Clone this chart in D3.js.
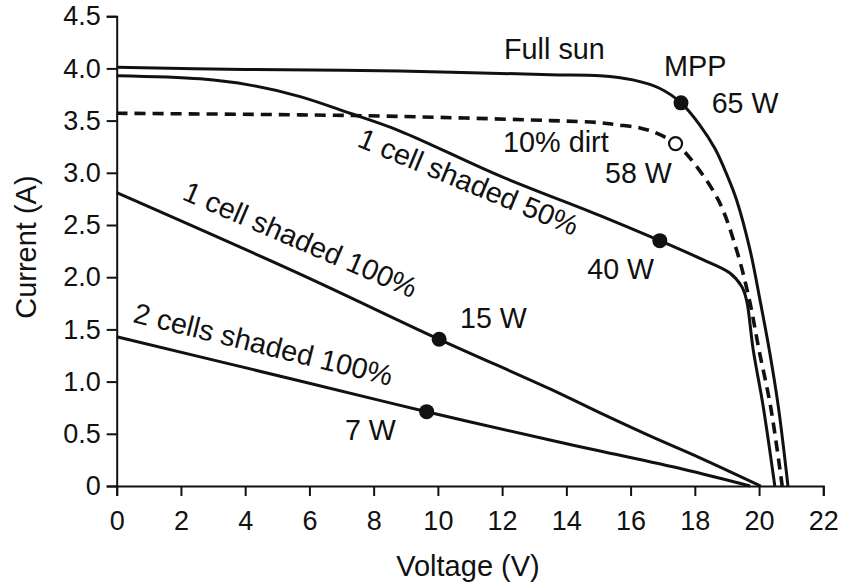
<!DOCTYPE html>
<html>
<head>
<meta charset="utf-8">
<script src="https://cdn.jsdelivr.net/npm/d3@7"></script>
<style>
  html, body { margin: 0; padding: 0; background: #fff; }
  svg { display: block; }
  text { font-family: "Liberation Sans", Arial, Helvetica, sans-serif; fill: #111; }
</style>
</head>
<body>
<svg id="chart" width="843" height="586"></svg>
<script>
// I–V curves of a PV module under different shading conditions
const xTicks = [0, 2, 4, 6, 8, 10, 12, 14, 16, 18, 20, 22];
const yTicks = [0, 0.5, 1.0, 1.5, 2.0, 2.5, 3.0, 3.5, 4.0, 4.5];

const fullSunV = [0, 4, 8.8, 13.5, 15.05, 16.07, 16.9, 17.57, 18.15, 18.63, 19.0, 19.3, 19.72, 20.03, 20.32, 20.6, 20.9];
const fullSunI = [4.01, 3.99, 3.975, 3.94, 3.93, 3.89, 3.81, 3.67, 3.46, 3.23, 2.98, 2.74, 2.26, 1.78, 1.30, 0.76, 0];

const dirtV = [0, 5.7, 8.8, 13.5, 15.05, 15.57, 16.29, 16.81, 17.4, 17.85, 18.73, 19.3, 19.7, 20.0, 20.36, 20.72];
const dirtI = [3.57, 3.555, 3.54, 3.50, 3.48, 3.46, 3.43, 3.38, 3.28, 3.14, 2.74, 2.26, 1.78, 1.30, 0.76, 0];

const half1V = [0, 2.6, 4.15, 5.71, 7.26, 8.82, 11.93, 15.05, 16.91, 18.16, 19.09, 19.46, 19.61, 19.82, 20.13, 20.49];
const half1I = [3.93, 3.90, 3.84, 3.73, 3.57, 3.40, 2.97, 2.59, 2.35, 2.18, 2.04, 1.91, 1.78, 1.30, 0.76, 0];

const full1V = [0, 5.71, 10.04, 13.49, 15.05, 16.6, 18.16, 20.05];
const full1I = [2.81, 2.03, 1.405, 0.93, 0.70, 0.48, 0.27, 0];

const two100V = [0, 5.71, 9.65, 13.49, 15.05, 17.64, 19.72];
const two100I = [1.43, 1.006, 0.712, 0.44, 0.335, 0.16, 0];

// maximum power points
const mppV = [17.57, 17.40, 16.91, 10.04, 9.65];
const mppI = [3.67, 3.28, 2.35, 1.405, 0.712];
const mppOpen = [false, true, false, false, false];
const mppLabels = ["65 W", "58 W", "40 W", "15 W", "7 W"];

const svg = d3.select("#chart");
const x = d3.scaleLinear().domain([0, 22]).range([116.7, 823.3]);
const y = d3.scaleLinear().domain([0, 4.5]).range([486, 16.2]);

// axes
const xAxis = svg.append("g")
  .attr("transform", `translate(0,${y(0)})`)
  .call(d3.axisBottom(x).tickValues(xTicks).tickSize(10).tickPadding(15).tickFormat(d3.format("d")));
const yAxis = svg.append("g")
  .attr("transform", `translate(${x(0)},0)`)
  .call(d3.axisLeft(y).tickValues(yTicks).tickSize(10).tickPadding(6)
    .tickFormat(d => d === 0 ? "0" : d.toFixed(1)));

[xAxis, yAxis].forEach(g => {
  g.select(".domain").attr("stroke", "#111").attr("stroke-width", 2);
  g.selectAll(".tick line").attr("stroke", "#111").attr("stroke-width", 2);
  g.selectAll(".tick text").attr("font-size", 27).attr("fill", "#111")
    .style("font-family", "'Liberation Sans', Arial, sans-serif");
});

svg.append("text")
  .attr("x", x(11) - 2).attr("y", 576)
  .attr("text-anchor", "middle").attr("font-size", 29)
  .text("Voltage (V)");
svg.append("text")
  .attr("transform", `translate(36,${y(2.25) - 4}) rotate(-90)`)
  .attr("text-anchor", "middle").attr("font-size", 29)
  .text("Current (A)");

// curves
const line = d3.line().x(d => x(d[0])).y(d => y(d[1])).curve(d3.curveCatmullRom.alpha(0.5));
const zip = (a, b) => a.map((v, i) => [v, b[i]]);

const curves = [
  { pts: zip(two100V, two100I), dash: null },
  { pts: zip(full1V, full1I), dash: null },
  { pts: zip(half1V, half1I), dash: null },
  { pts: zip(dirtV, dirtI), dash: "11,7" },
  { pts: zip(fullSunV, fullSunI), dash: null }
];

svg.append("g").selectAll("path").data(curves).join("path")
  .attr("d", d => line(d.pts))
  .attr("fill", "none")
  .attr("stroke", "#111")
  .attr("stroke-width", d => d.dash ? 3.6 : 3)
  .attr("stroke-dasharray", d => d.dash);

// MPP markers
svg.append("g").selectAll("circle").data(mppV.map((v, i) => i)).join("circle")
  .attr("cx", i => x(mppV[i]))
  .attr("cy", i => y(mppI[i]))
  .attr("r", i => mppOpen[i] ? 6.5 : 7.5)
  .attr("fill", i => mppOpen[i] ? "#fff" : "#111")
  .attr("stroke", "#111")
  .attr("stroke-width", i => mppOpen[i] ? 2.2 : 0);

// annotation text
const labelPos = [[711.7, 112.7], [605, 183.3], [587.3, 279.3], [460, 328.3], [345, 440]];
svg.append("g").selectAll("text").data(mppLabels).join("text")
  .attr("x", (d, i) => labelPos[i][0])
  .attr("y", (d, i) => labelPos[i][1])
  .attr("font-size", 28.6)
  .text(d => d);

const notes = [
  { t: "Full sun", x: 504, y: 59, a: 0 },
  { t: "MPP", x: 664, y: 76, a: 0 },
  { t: "10% dirt", x: 503, y: 152, a: 0 },
  { t: "1 cell shaded 50%", x: 356, y: 146, a: 22.5 },
  { t: "1 cell shaded 100%", x: 181, y: 199, a: 23.3 },
  { t: "2 cells shaded 100%", x: 132, y: 322, a: 13.9 }
];
svg.append("g").selectAll("text").data(notes).join("text")
  .attr("transform", d => `translate(${d.x},${d.y}) rotate(${d.a})`)
  .attr("font-size", 28.8)
  .text(d => d.t);
</script>
</body>
</html>
